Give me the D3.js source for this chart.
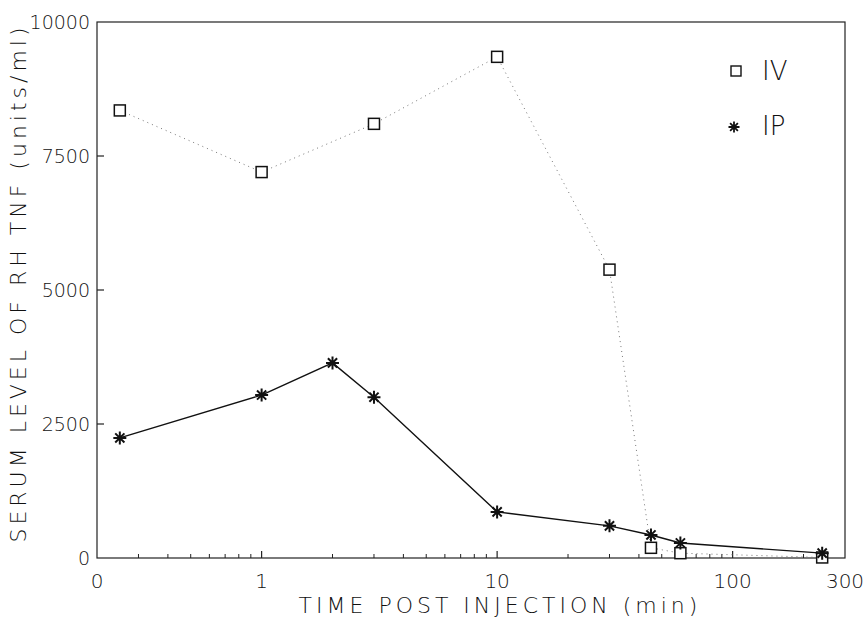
<!DOCTYPE html>
<html>
<head>
<meta charset="utf-8">
<script src="https://cdn.jsdelivr.net/npm/d3@7"></script>
<style>
  body { margin: 0; background: #fff; }
  text { font-family: "DejaVu Sans", sans-serif; font-weight: 200; fill: #111; }
</style>
</head>
<body>
<svg id="chart" width="865" height="617"></svg>
<script>
// series (time in minutes, serum level in units/ml)
const ivTime = [0.25, 1, 3, 10, 30, 45, 60, 240];
const ivValue = [8350, 7200, 8100, 9350, 5380, 190, 90, 10];
const ipTime = [0.25, 1, 2, 3, 10, 30, 45, 60, 240];
const ipValue = [2240, 3040, 3640, 3000, 860, 600, 430, 280, 90];

const xMajor = [0.2, 1, 10, 100, 300];
const xMajorLabels = ["0", "1", "10", "100", "300"];
const xMinor = [0.3, 0.4, 0.5, 0.6, 0.7, 0.8, 0.9, 2, 3, 4, 5, 6, 7, 8, 9,
  20, 30, 40, 50, 60, 70, 80, 90, 200];
const yTicks = [0, 2500, 5000, 7500, 10000];

const svg = d3.select("#chart");
const plotL = 97, plotR = 845, plotT = 22, plotB = 558;

const x = d3.scaleLog().domain([0.2, 300]).range([plotL, plotR]);
const y = d3.scaleLinear().domain([0, 10000]).range([plotB, plotT]);

// frame
svg.append("rect")
  .attr("x", plotL).attr("y", plotT)
  .attr("width", plotR - plotL).attr("height", plotB - plotT)
  .attr("fill", "none").attr("stroke", "#222").attr("stroke-width", 1.2);

// x ticks (inward)
svg.selectAll(".xmaj").data(xMajor.slice(1, -1)).join("line")
  .attr("x1", d => x(d)).attr("x2", d => x(d))
  .attr("y1", plotB).attr("y2", plotB - 7)
  .attr("stroke", "#222").attr("stroke-width", 1.2);
svg.selectAll(".xmin").data(xMinor).join("line")
  .attr("x1", d => x(d)).attr("x2", d => x(d))
  .attr("y1", plotB).attr("y2", plotB - 4)
  .attr("stroke", "#222").attr("stroke-width", 1);
svg.selectAll(".xlab").data(xMajor).join("text")
  .attr("x", d => x(d)).attr("y", 588)
  .attr("text-anchor", "middle")
  .style("font-size", "20px")
  .text((d, i) => xMajorLabels[i]);

// y ticks (inward)
svg.selectAll(".ytk").data(yTicks.slice(1, -1)).join("line")
  .attr("x1", plotL).attr("x2", plotL + 7)
  .attr("y1", d => y(d)).attr("y2", d => y(d))
  .attr("stroke", "#222").attr("stroke-width", 1.2);
svg.selectAll(".ylab").data(yTicks).join("text")
  .attr("x", 90).attr("y", d => y(d) + 7)
  .attr("text-anchor", "end")
  .style("font-size", "19px")
  .text(d => d);

// axis titles
svg.append("text")
  .attr("x", 500).attr("y", 613)
  .attr("text-anchor", "middle")
  .style("font-size", "22px").style("letter-spacing", "4px")
  .text("TIME POST INJECTION (min)");
svg.append("text")
  .attr("transform", "translate(26,283) rotate(-90)")
  .attr("text-anchor", "middle")
  .style("font-size", "22px").style("letter-spacing", "4px")
  .text("SERUM LEVEL OF RH TNF (units/ml)");

const iv = ivTime.map((t, i) => ({ t, v: ivValue[i] }));
const ip = ipTime.map((t, i) => ({ t, v: ipValue[i] }));
const line = d3.line().x(d => x(d.t)).y(d => y(d.v));

svg.append("path").datum(iv)
  .attr("d", line).attr("fill", "none")
  .attr("stroke", "#777").attr("stroke-width", 1)
  .attr("stroke-dasharray", "1 4");
svg.append("path").datum(ip)
  .attr("d", line).attr("fill", "none")
  .attr("stroke", "#111").attr("stroke-width", 1.4);

function star(r) {
  const d = r * Math.SQRT1_2;
  return `M${-r},0L${r},0M0,${-r}L0,${r}M${-d},${-d}L${d},${d}M${-d},${d}L${d},${-d}`;
}

svg.selectAll(".ivpt").data(iv).join("rect")
  .attr("x", d => x(d.t) - 5.5).attr("y", d => y(d.v) - 5.5)
  .attr("width", 11).attr("height", 11)
  .attr("fill", "#fff").attr("stroke", "#111").attr("stroke-width", 1.5);
svg.selectAll(".ippt").data(ip).join("path")
  .attr("transform", d => `translate(${x(d.t)},${y(d.v)})`)
  .attr("d", star(6.5))
  .attr("stroke", "#111").attr("stroke-width", 2);

// legend
svg.append("rect")
  .attr("x", 731).attr("y", 66).attr("width", 10).attr("height", 10)
  .attr("fill", "#fff").attr("stroke", "#111").attr("stroke-width", 1.4);
svg.append("text").attr("x", 762).attr("y", 80)
  .style("font-size", "26px").text("IV");
svg.append("path")
  .attr("transform", "translate(734,127)")
  .attr("d", star(5.5))
  .attr("stroke", "#111").attr("stroke-width", 1.8);
svg.append("text").attr("x", 762).attr("y", 135)
  .style("font-size", "26px").text("IP");
</script>
</body>
</html>
